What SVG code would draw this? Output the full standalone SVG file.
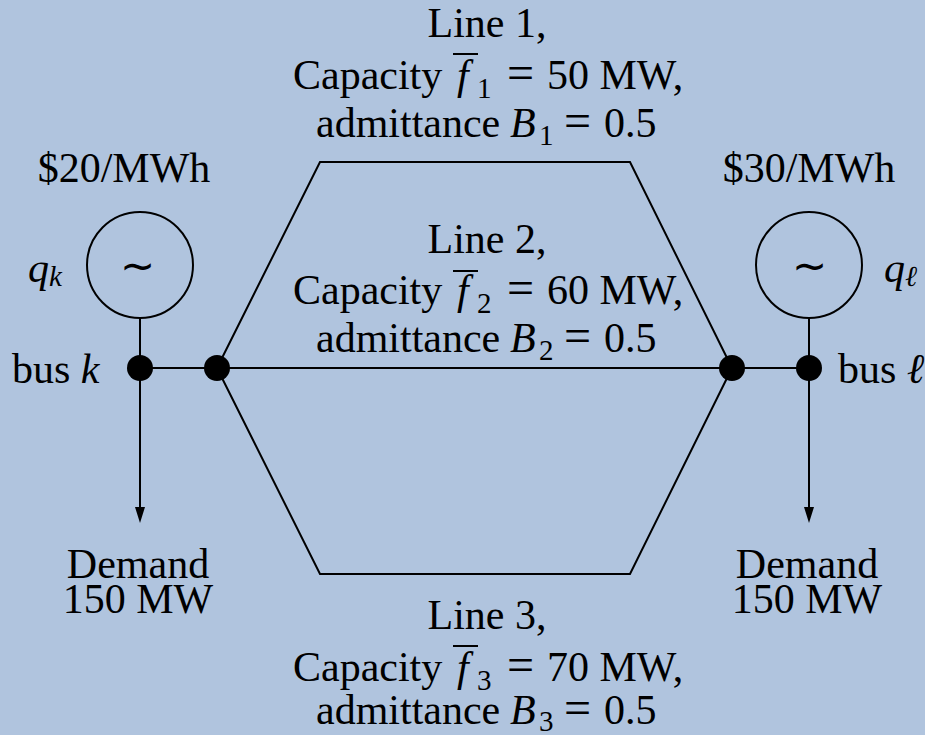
<svg xmlns="http://www.w3.org/2000/svg" width="925" height="735" viewBox="0 0 925 735">
<style>
text{font-family:"Liberation Serif","Times New Roman",serif;font-size:42px;fill:#000}
.it{font-style:italic}
.sub{font-size:29px}
.eq{font-size:48px}
.w{stroke:#000;stroke-width:2;fill:none}
.dot{fill:#000}
.mid{text-anchor:middle}
</style>
<rect width="925" height="735" fill="#B0C4DE"/>
<g id="connectors">
<line class="w" x1="140" y1="318" x2="140" y2="368"/>
<line class="w" x1="809" y1="318" x2="809" y2="368"/>
<line class="w" x1="140" y1="368" x2="809" y2="368"/>
<path class="w" d="M217,368 L320,162 L630,162 L732,368"/>
<path class="w" d="M217,368 L320,574 L630,574 L732,368"/>
<path class="w" d="M140,368 L140,507"/>
<path class="w" d="M809,368 L809,507"/>
<path d="M135,507 L140,523 L145,507 Z" fill="#000"/>
<path d="M804,507 L809,523 L814,507 Z" fill="#000"/>
</g>
<g id="gen_k">
<circle class="w" cx="140" cy="265" r="53"/>
<text class="mid" x="137" y="280">∼</text>
<text x="124" y="182" class="mid">$20/MWh</text>
<text x="28" y="282"><tspan class="it">q</tspan><tspan class="it sub" dy="4">k</tspan></text>
</g>
<g id="gen_l">
<circle class="w" cx="809" cy="265" r="53"/>
<text class="mid" x="809" y="280">∼</text>
<text x="809" y="182" class="mid">$30/MWh</text>
<text x="884" y="282"><tspan class="it">q</tspan><tspan class="it sub" dy="4">ℓ</tspan></text>
</g>
<g id="bus_k">
<circle class="dot" cx="140" cy="368" r="13"/>
<text x="12" y="383">bus <tspan class="it">k</tspan></text>
</g>
<g id="junction_k">
<circle class="dot" cx="217" cy="368" r="13"/>
</g>
<g id="junction_l">
<circle class="dot" cx="732" cy="368" r="13"/>
</g>
<g id="bus_l">
<circle class="dot" cx="809" cy="368" r="13"/>
<text x="838" y="383">bus <tspan class="it">ℓ</tspan></text>
</g>
<g id="demand_k">
<text class="mid" x="138" y="578">Demand</text>
<text class="mid" x="138" y="613">150 MW</text>
</g>
<g id="demand_l">
<text class="mid" x="807" y="578">Demand</text>
<text class="mid" x="807" y="613">150 MW</text>
</g>
<g id="line1">
<text class="mid" x="487" y="37">Line 1,</text>
<line class="w" x1="453" y1="54" x2="478" y2="54"/>
<text y="89"><tspan x="293">Capacity</tspan><tspan x="457" class="it">f</tspan><tspan x="477" dy="9" class="sub">1</tspan><tspan x="507" dy="-9" class="eq">=</tspan><tspan x="547">50 MW,</tspan></text>
<text y="137"><tspan x="316">admittance</tspan><tspan x="510" class="it">B</tspan><tspan x="539" dy="8" class="sub">1</tspan><tspan x="564" dy="-8" class="eq">=</tspan><tspan x="604">0.5</tspan></text>
</g>
<g id="line2">
<text class="mid" x="487" y="253">Line 2,</text>
<line class="w" x1="453" y1="271" x2="478" y2="271"/>
<text y="304"><tspan x="293">Capacity</tspan><tspan x="457" class="it">f</tspan><tspan x="477" dy="9" class="sub">2</tspan><tspan x="507" dy="-9" class="eq">=</tspan><tspan x="547">60 MW,</tspan></text>
<text y="352"><tspan x="316">admittance</tspan><tspan x="510" class="it">B</tspan><tspan x="539" dy="8" class="sub">2</tspan><tspan x="564" dy="-8" class="eq">=</tspan><tspan x="604">0.5</tspan></text>
</g>
<g id="line3">
<text class="mid" x="487" y="629">Line 3,</text>
<line class="w" x1="453" y1="646" x2="478" y2="646"/>
<text y="681"><tspan x="293">Capacity</tspan><tspan x="457" class="it">f</tspan><tspan x="477" dy="9" class="sub">3</tspan><tspan x="507" dy="-9" class="eq">=</tspan><tspan x="547">70 MW,</tspan></text>
<text y="724"><tspan x="316">admittance</tspan><tspan x="510" class="it">B</tspan><tspan x="539" dy="7" class="sub">3</tspan><tspan x="564" dy="-7" class="eq">=</tspan><tspan x="604">0.5</tspan></text>
</g>
</svg>
